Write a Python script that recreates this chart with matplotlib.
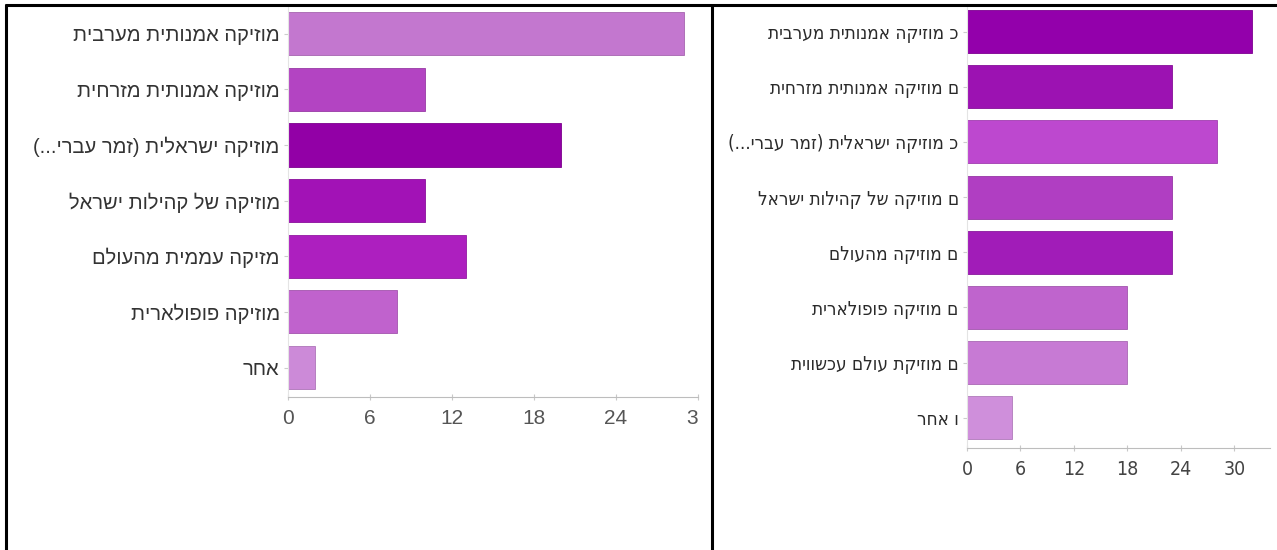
import matplotlib

matplotlib.use('Agg')
import matplotlib.pyplot as plt
from matplotlib.lines import Line2D
from matplotlib.transforms import Bbox, TransformedBbox
from matplotlib import font_manager

# left chart
left_labels = [
    'מוזיקה אמנותית מערבית',
    'מוזיקה אמנותית מזרחית',
    'מוזיקה ישראלית (זמר עברי...)',
    'מוזיקה של קהילות ישראל',
    'מזיקה עממית מהעולם',
    'מוזיקה פופולארית',
    'אחר',
]
left_values = [29, 10, 20, 10, 13, 8, 2]
left_colors = ['#c377cf', '#b344c2', '#9200a6', '#a212b6', '#ad1fbf', '#c062cd', '#cc8ad8']
left_ticks = [0, 6, 12, 18, 24, 30]

# right chart
right_labels = [
    'מוזיקה אמנותית מערבית',
    'מוזיקה אמנותית מזרחית',
    'מוזיקה ישראלית (זמר עברי...)',
    'מוזיקה של קהילות ישראל',
    'מוזיקה מהעולם',
    'מוזיקה פופולארית',
    'מוזיקת עולם עכשווית',
    'אחר',
]
right_marks = ['כ', 'ם', 'כ', 'ם', 'ם', 'ם', 'ם', 'ו']
right_values = [32, 23, 28, 23, 23, 18, 18, 5]
right_colors = ['#9300ab', '#9c12b2', '#bd48cf', '#b03ec2', '#a11cb8', '#bf64cd', '#c77ad4', '#cf8fdb']
right_ticks = [0, 6, 12, 18, 24, 30]

W, H = 1277, 550


def visual(s):
    # matplotlib has no bidi support: lay the hebrew out right-to-left by hand
    swap = {'(': ')', ')': '('}
    return ''.join(swap.get(c, c) for c in reversed(s))


def darker(c, f=0.85):
    r, g, b = matplotlib.colors.to_rgb(c)
    return (r * f, g * f, b * f)


def px_axes(fig, x0, y0, x1, y1):
    return fig.add_axes([x0 / W, 1 - y1 / H, (x1 - x0) / W, (y1 - y0) / H])


def style_axes(ax, tick_color, tick_font):
    for s in ['top', 'right']:
        ax.spines[s].set_visible(False)
    ax.spines['bottom'].set_color('#bdbdbd')
    ax.spines['left'].set_color('#e4e4e4')
    ax.tick_params(axis='x', direction='inout', length=5, color='#c8c8c8',
                   labelcolor=tick_color, pad=6)
    ax.tick_params(axis='y', length=3, color='#cccccc', pad=3)
    for t in ax.get_xticklabels():
        t.set_fontproperties(tick_font)


arial = font_manager.FontProperties(family=['Liberation Sans', 'DejaVu Sans'], size=14.5)
arial_ticks = font_manager.FontProperties(family=['Liberation Sans', 'DejaVu Sans'], size=15)
narrow = font_manager.FontProperties(family='DejaVu Sans', stretch='condensed', size=13.5)
narrow_ticks = font_manager.FontProperties(family='DejaVu Sans', stretch='condensed', size=14)

fig = plt.figure(figsize=(W / 100, H / 100), dpi=100)

# ---- left chart
ax1 = px_axes(fig, 288, 6, 698, 397)
y1 = list(range(len(left_values)))
ax1.barh(y1, left_values, height=0.775, color=left_colors,
         edgecolor=[darker(c) for c in left_colors], linewidth=0.6)
ax1.set_xlim(0, 30)
ax1.set_ylim(6.53, -0.5)
ax1.set_xticks(left_ticks)
ax1.set_xticklabels([str(t) for t in left_ticks])
ax1.set_yticks(y1)
ax1.set_yticklabels([visual(s) for s in left_labels], color='#333333',
                    fontproperties=arial)
style_axes(ax1, '#555555', arial_ticks)

# "30" is cut by the right edge of the chart
clip = TransformedBbox(Bbox.from_extents(0, 0, 698 / W, 1), fig.transFigure)
last = ax1.get_xticklabels()[-1]
last.set_clip_on(True)
last.set_clip_box(clip)

# ---- right chart
ax2 = px_axes(fig, 967, 4, 1270, 448)
y2 = list(range(len(right_values)))
ax2.barh(y2, right_values, height=0.78, color=right_colors,
         edgecolor=[darker(c) for c in right_colors], linewidth=0.6)
ax2.set_xlim(0, 34)
ax2.set_ylim(7.55, -0.5)
ax2.set_xticks(right_ticks)
ax2.set_xticklabels([str(t) for t in right_ticks])
ax2.set_yticks(y2)
ax2.set_yticklabels([visual(s) + ' ' + m for s, m in zip(right_labels, right_marks)],
                    color='#2a2a2a', fontproperties=narrow)
style_axes(ax2, '#444444', narrow_ticks)

# ---- table frame around the two pictures
frame = dict(color='black', linewidth=2.2, solid_capstyle='butt')
fig.add_artist(Line2D([5 / W, 1], [1 - 5 / H, 1 - 5 / H], **frame))
fig.add_artist(Line2D([6 / W, 6 / W], [0, 1 - 4 / H], **frame))
fig.add_artist(Line2D([712 / W, 712 / W], [0, 1 - 4 / H], **frame))

fig.savefig('out.png', dpi=100)
plt.close(fig)
